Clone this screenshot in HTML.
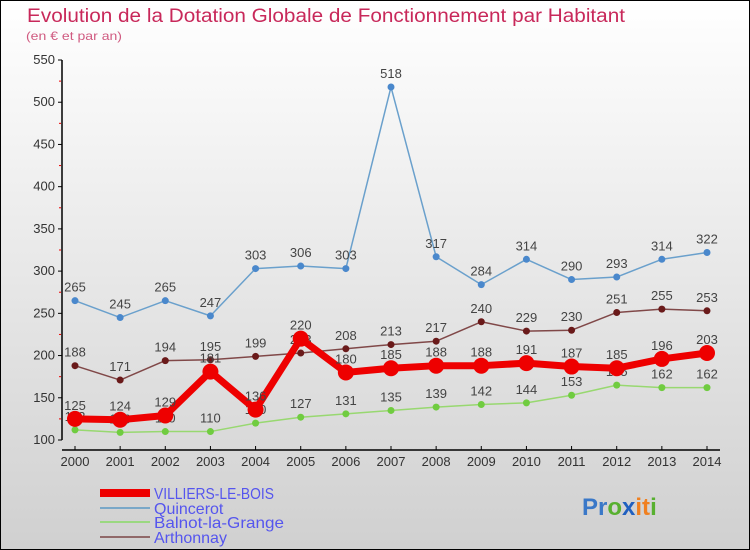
<!DOCTYPE html>
<html><head><meta charset="utf-8"><style>
body{margin:0}
#c{width:750px;height:550px;position:relative;overflow:hidden;background:linear-gradient(#ffffff,#d0d0d0);box-sizing:border-box;border:1px solid #000;font-family:"Liberation Sans",sans-serif}
text{font-family:"Liberation Sans",sans-serif}
</style></head><body>
<div id="c">
<svg id="s" width="750" height="550" style="position:absolute;left:-1px;top:-1px">
<text x="27" y="22" font-size="19" fill="#c8285a" textLength="598" lengthAdjust="spacingAndGlyphs">Evolution de la Dotation Globale de Fonctionnement par Habitant</text>
<text x="26" y="40" font-size="12" fill="#d05a80" textLength="96" lengthAdjust="spacingAndGlyphs">(en € et par an)</text>
<g id="axes"></g><g id="series"></g>
<g>
<line x1="100" y1="493" x2="150" y2="493" stroke="#ee0000" stroke-width="8"/>
<text x="154" y="499" font-size="16" fill="#5555ee" textLength="120" lengthAdjust="spacingAndGlyphs">VILLIERS-LE-BOIS</text>
<line x1="100" y1="508" x2="150" y2="508" stroke="#7aa8c8" stroke-width="2"/>
<text x="154" y="514" font-size="16" fill="#5555ee">Quincerot</text>
<line x1="100" y1="522" x2="150" y2="522" stroke="#9ad880" stroke-width="2"/>
<text x="154" y="528" font-size="16" fill="#5555ee" textLength="130" lengthAdjust="spacingAndGlyphs">Balnot-la-Grange</text>
<line x1="100" y1="537" x2="150" y2="537" stroke="#906868" stroke-width="2"/>
<text x="154" y="543" font-size="16" fill="#5555ee">Arthonnay</text>
</g>
<g font-size="24" font-weight="bold">
<text x="582" y="515"><tspan fill="#3a78c8">Pr</tspan><tspan fill="#58b030">o</tspan><tspan fill="#2060c0">x</tspan><tspan fill="#f08020">it</tspan><tspan fill="#58b030">i</tspan></text>
</g>
</svg>
</div>
<script>
const years=[2000,2001,2002,2003,2004,2005,2006,2007,2008,2009,2010,2011,2012,2013,2014];
const yTicks=[100,150,200,250,300,350,400,450,500,550];
const villiers=[125,124,129,181,136,220,180,185,188,188,191,187,185,196,203];
const quincerot=[265,245,265,247,303,306,303,518,317,284,314,290,293,314,322];
const balnot=[112,109,110,110,120,127,131,135,139,142,144,153,165,162,162];
const arthonnay=[188,171,194,195,199,203,208,213,217,240,229,230,251,255,253];
const NS="http://www.w3.org/2000/svg";
const X=i=>75+i*(707-75)/(years.length-1);
const Y=v=>440-(v-100)*380/450;
function mk(t,a,p){const e=document.createElementNS(NS,t);for(const k in a)e.setAttribute(k,a[k]);p.appendChild(e);return e;}
const ax=document.getElementById('axes'),se=document.getElementById('series');
const yl=mk('line',{x1:62,y1:Y(550),x2:62,y2:Y(100),stroke:'#000','stroke-width':1.5},ax);


const xl=mk('line',{x1:62,y1:450,x2:720,y2:450,stroke:'#000','stroke-width':1.5},ax);


yTicks.forEach(v=>{
 mk('line',{x1:58,y1:Y(v),x2:62,y2:Y(v),stroke:'#000'},ax);
 if(v<550) mk('line',{x1:59,y1:Y(v+25),x2:61,y2:Y(v+25),stroke:'#e00'},ax);
 const t=mk('text',{x:55,y:Y(v)+4,'font-size':13,fill:'#333','text-anchor':'end'},ax);
 t.textContent=v;
 
 
});
years.forEach((yr,i)=>{
 mk('line',{x1:X(i),y1:446,x2:X(i),y2:450,stroke:'#000'},ax);
 const t=mk('text',{x:X(i),y:466,'font-size':13,fill:'#333','text-anchor':'middle'},ax);
 t.textContent=yr;
 
 
});
function series(data,name,color,dot,w,r){
 const g=mk('g',{},se);
 
 
 mk('polyline',{points:data.map((v,i)=>X(i)+','+Y(v)).join(' '),fill:'none',stroke:color,'stroke-width':w,'stroke-linejoin':'round'},g);
 data.forEach((v,i)=>{
  const c=mk('circle',{cx:X(i),cy:Y(v),r:r,fill:dot},g);
  
  
  const t=mk('text',{x:X(i),y:Y(v)-9,'font-size':13,fill:'#444','text-anchor':'middle'},g);
  t.textContent=v;
  
  
 });
}
series(quincerot,'quincerot-series','#6aa0cc','#4a88cc',1.5,3.5);
series(arthonnay,'arthonnay-series','#804848','#6a1a1a',1.5,3.5);
series(balnot,'balnot-series','#98d870','#70cc40',1.5,3.5);
series(villiers,'villiers-series','#ee0000','#ee0000',7,8);
</script>
</body></html>
